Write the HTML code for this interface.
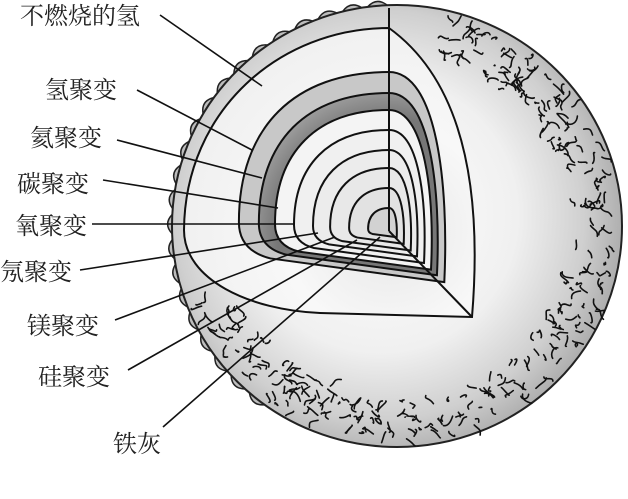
<!DOCTYPE html>
<html><head><meta charset="utf-8"><style>
html,body{margin:0;padding:0;background:#fff;width:628px;height:499px;overflow:hidden}
svg{display:block}
text{font-family:"Liberation Serif","Noto Serif CJK SC","Noto Sans CJK SC",serif;font-size:24px;fill:#222}
</style></head><body>
<svg id="s" width="628" height="499" viewBox="0 0 628 499" xmlns="http://www.w3.org/2000/svg">
<defs>
<radialGradient id="sph" cx="380" cy="215" r="250" gradientUnits="userSpaceOnUse">
<stop offset="0" stop-color="#ffffff"/><stop offset="0.55" stop-color="#f0f0f0"/><stop offset="0.82" stop-color="#cfcfcf"/><stop offset="1" stop-color="#a8a8a8"/>
</radialGradient>
<radialGradient id="cut" cx="389" cy="230" r="210" gradientUnits="userSpaceOnUse">
<stop offset="0" stop-color="#e6e6e6"/><stop offset="0.5" stop-color="#f8f8f8"/><stop offset="1" stop-color="#f0f0f0"/>
</radialGradient>
<radialGradient id="band" cx="389" cy="230" r="160" gradientUnits="userSpaceOnUse">
<stop offset="0.7" stop-color="#777"/><stop offset="1" stop-color="#b5b5b5"/>
</radialGradient>
</defs>
<g id="spikes"></g>
<ellipse cx="397" cy="226" rx="225" ry="221" fill="url(#sph)" stroke="#222" stroke-width="2"/>
<g id="squig" fill="none" stroke="#111" stroke-width="1.6" stroke-linecap="round"></g>
<path d="M389,28 C280,28 185,110 184,230 C184,280 250,310 320,313 L472,317 C480,220 475,90 389,28 Z" fill="url(#cut)" stroke="#111" stroke-width="2"/>
<g id="nest" stroke="#111" stroke-width="2"></g>
<line x1="389" y1="8" x2="389" y2="231" stroke="#111" stroke-width="2"/>
<line x1="389" y1="231" x2="472" y2="317" stroke="#111" stroke-width="2"/>
<g stroke="#111" stroke-width="1.6">
<line x1="160" y1="15" x2="262" y2="86"/>
<line x1="137" y1="90" x2="252" y2="150"/>
<line x1="117" y1="140" x2="262" y2="178"/>
<line x1="103" y1="180" x2="278" y2="208"/>
<line x1="92" y1="224" x2="295" y2="224"/>
<line x1="80" y1="270" x2="318" y2="233"/>
<line x1="115" y1="320" x2="335" y2="237"/>
<line x1="128" y1="370" x2="357" y2="240"/>
<line x1="163" y1="427" x2="380" y2="237"/>
</g>
<text x="20" y="24">不燃烧的氢</text>
<text x="45" y="98">氢聚变</text>
<text x="30" y="146">氦聚变</text>
<text x="17" y="192">碳聚变</text>
<text x="15" y="234">氧聚变</text>
<text x="0" y="280">氖聚变</text>
<text x="27" y="334">镁聚变</text>
<text x="38" y="385">硅聚变</text>
<text x="113" y="452">铁灰</text>
</svg>
<script>
var NS="http://www.w3.org/2000/svg";
function el(t,a,p){var e=document.createElementNS(NS,t);for(var k in a)e.setAttribute(k,a[k]);p.appendChild(e);return e;}
var cx=397,cy=226,rx=225,ry=221;
var sp=document.getElementById('spikes');
var d="";
for(var a=-95;a>=-235;a-=6.5){
 var t1=(a+2.5)*Math.PI/180,t2=a*Math.PI/180,t3=(a-2.5)*Math.PI/180;
 d+="M"+(cx+rx*Math.cos(t1))+","+(cy+ry*Math.sin(t1))+" Q"+(cx+(rx+9)*Math.cos(t2))+","+(cy+(ry+9)*Math.sin(t2))+" "+(cx+rx*Math.cos(t3))+","+(cy+ry*Math.sin(t3))+"Z ";
}
el('path',{d:d,fill:"#bdbdbd",stroke:"#222","stroke-width":"1.5"},sp);
var ng=document.getElementById('nest');
var S=[158,137,120,100,80,62,42,22];
var F=["#c8c8c8","url(#band)","#f4f4f4","#f0f0f0","#ececec","#e8e8e8","#e2e2e2","#d2d2d2"];
for(var i=0;i<S.length;i++){var s=S[i];
 var Tx=389,Ty=230-s,Lx=389-0.95*s,Ly=230+0.1*s,Rx=389+0.35*s,Ry=230+0.33*s;
 var p="M"+Rx+","+Ry+" L"+(389-0.75*s)+","+(230+0.18*s)+" Q"+(Lx)+","+(230+0.13*s)+" "+Lx+","+(230-0.05*s)+" C"+(Lx)+","+(230-0.65*s)+" "+(389-0.6*s)+","+Ty+" "+Tx+","+Ty+" C"+(389+0.3*s)+","+Ty+" "+(389+0.38*s)+","+(230-0.3*s)+" "+Rx+","+Ry+"Z";
 el('path',{d:p,fill:F[i]},ng);}
var sq=document.getElementById('squig');var seed=7;function rnd(){seed=(seed*16807)%2147483647;return seed/2147483647;}
for(var n=0;n<320;n++){
 var ang=(-75+rnd()*235)*Math.PI/180;var rr=0.78+rnd()*0.19;
 var x=cx+rx*rr*Math.cos(ang),y=cy+ry*rr*Math.sin(ang);
 if(x<330&&y<300)continue;
 var dx=(rnd()-0.5)*22,dy=(rnd()-0.5)*22;
 el('path',{d:"M"+x+","+y+" c"+(dx/3+(rnd()-0.5)*10)+","+(dy/3+(rnd()-0.5)*10)+" "+(2*dx/3+(rnd()-0.5)*10)+","+(2*dy/3+(rnd()-0.5)*10)+" "+dx+","+dy},sq);}
</script>
</body></html>
